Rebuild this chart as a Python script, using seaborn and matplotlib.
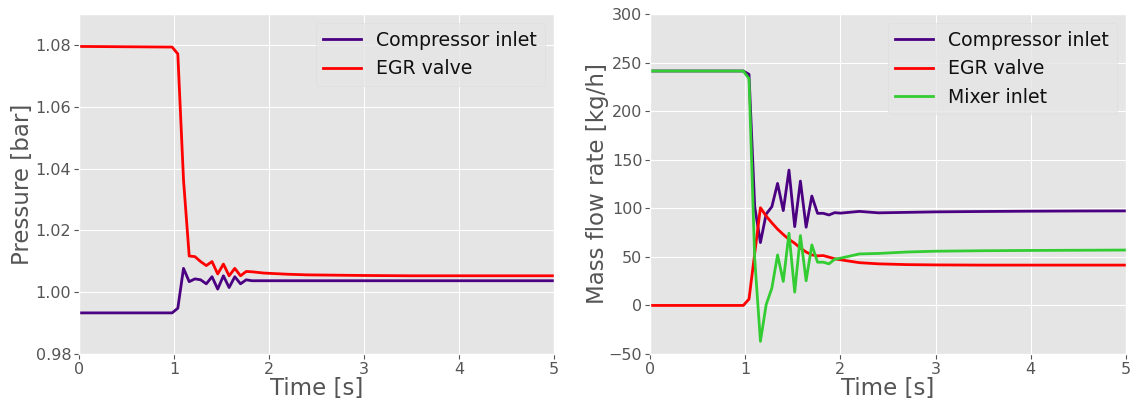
import matplotlib
matplotlib.use("Agg")
import matplotlib.pyplot as plt
import seaborn as sns
import pandas as pd

# Time grid [s]
time = [0, 0.98, 1.04, 1.10, 1.16, 1.22, 1.28, 1.34, 1.40, 1.46, 1.52, 1.58, 1.64,
        1.70, 1.76, 1.82, 1.88, 1.94, 2.0, 2.2, 2.4, 2.7, 3.0, 3.5, 4.0, 4.5, 5.0]

# Pressure [bar]
p_comp = [0.9933, 0.9933, 0.9948, 1.0077, 1.0034, 1.0043, 1.0040, 1.0027, 1.0050,
          1.0010, 1.0053, 1.0015, 1.0050, 1.0027, 1.0040, 1.0037, 1.0037, 1.0037,
          1.0037, 1.0037, 1.0037, 1.0037, 1.0037, 1.0037, 1.0037, 1.0037, 1.0037]
p_egr = [1.0795, 1.0793, 1.0771, 1.0363, 1.0117, 1.0115, 1.0099, 1.0086, 1.0099,
         1.0059, 1.0091, 1.0053, 1.0077, 1.0053, 1.0067, 1.0066, 1.0064, 1.0062,
         1.0061, 1.0058, 1.0056, 1.0055, 1.0054, 1.0053, 1.0053, 1.0053, 1.0053]

# Mass flow rate [kg/h]
m_comp = [241.3, 241.3, 237.9, 101.6, 64.7, 94.0, 101.6, 125.6, 97.6, 139.3, 81.1,
          128.0, 80.5, 112.6, 94.8, 94.8, 93.1, 95.5, 95.0, 96.8, 95.3, 95.8, 96.3,
          96.7, 97.0, 97.2, 97.3]
m_egr = [0, 0, 6.5, 53.5, 100.6, 92.0, 85.0, 78.5, 73.0, 68.0, 64.0, 59.0, 55.0,
         52.0, 51.0, 51.3, 49.7, 48.0, 47.0, 44.0, 42.8, 42.0, 41.7, 41.5, 41.5,
         41.5, 41.5]
m_mix = [241.3, 241.3, 233.5, 48.0, -37.0, 0.7, 17.8, 52.0, 24.7, 74.3, 13.7, 71.9,
         25.4, 62.3, 44.5, 44.5, 42.8, 47.6, 48.6, 53.0, 53.5, 55.0, 55.8, 56.3,
         56.6, 56.8, 57.0]

labels = ["Compressor inlet", "EGR valve", "Mixer inlet"]
colors = {"Compressor inlet": "#4B0082", "EGR valve": "#FF0000", "Mixer inlet": "#33CC33"}

plt.style.use("ggplot")

df_p = pd.concat([
    pd.DataFrame({"t": time, "v": p_comp, "s": labels[0]}),
    pd.DataFrame({"t": time, "v": p_egr, "s": labels[1]}),
])
df_m = pd.concat([
    pd.DataFrame({"t": time, "v": m_comp, "s": labels[0]}),
    pd.DataFrame({"t": time, "v": m_egr, "s": labels[1]}),
    pd.DataFrame({"t": time, "v": m_mix, "s": labels[2]}),
])

fig = plt.figure(figsize=(11.32, 4.03), dpi=100)
ax1 = fig.add_axes([0.0698, 0.1216, 0.4196, 0.8437])
ax2 = fig.add_axes([0.5742, 0.1216, 0.4205, 0.8437])

sns.lineplot(data=df_p, x="t", y="v", hue="s", palette=colors, ax=ax1, linewidth=2)
sns.lineplot(data=df_m, x="t", y="v", hue="s", palette=colors, ax=ax2, linewidth=2)

ax1.set_xlim(0, 5)
ax1.set_ylim(0.98, 1.09)
ax1.set_yticks([0.98, 1.00, 1.02, 1.04, 1.06, 1.08])
ax1.set_ylabel("Pressure [bar]", fontsize=16.5, labelpad=1)
ax2.set_xlim(0, 5)
ax2.set_ylim(-50, 300)
ax2.set_yticks(range(-50, 301, 50))
ax2.set_ylabel("Mass flow rate [kg/h]", fontsize=16.5, labelpad=0)

for ax in (ax1, ax2):
    ax.set_xticks([0, 1, 2, 3, 4, 5])
    ax.set_xlabel("Time [s]", fontsize=16.5, labelpad=0)
    ax.tick_params(labelsize=11.5, pad=2)
    leg = ax.legend(loc="upper right", fontsize=13.6, title=None,
                    facecolor="#E5E5E5", edgecolor="#DDDDDD", framealpha=0.8)
    for txt in leg.get_texts():
        txt.set_color("#111111")

fig.savefig("out.png", dpi=100)
